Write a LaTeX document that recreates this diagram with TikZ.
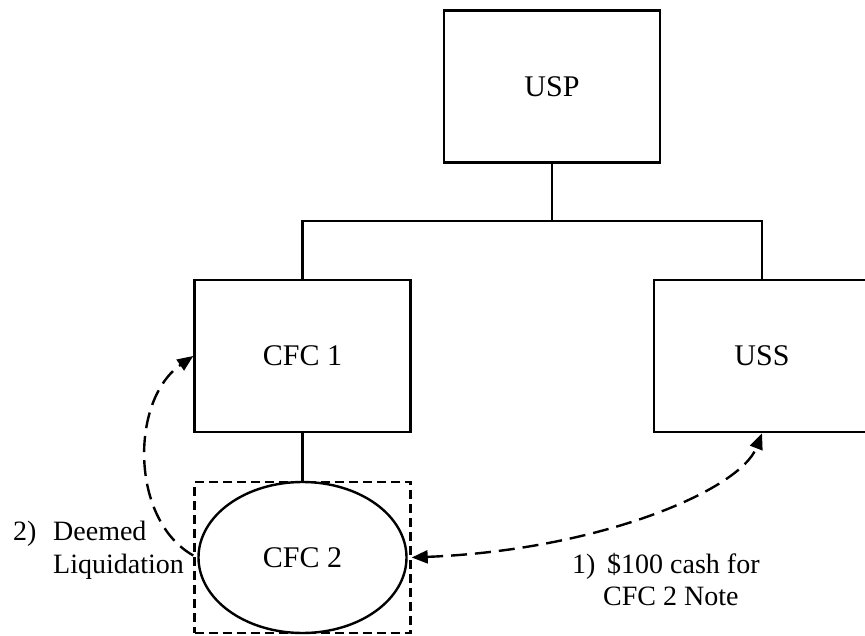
\documentclass[tikz,border=0pt]{standalone}
\usepackage{fontspec}
\setmainfont{Liberation Serif}
\usetikzlibrary{arrows.meta,shapes.geometric}
\begin{document}
\begin{tikzpicture}[x=1pt,y=-1pt,
  entity/.style={draw,line width=2.4pt,minimum width=216pt,minimum height=152pt,inner sep=0pt,font=\fontsize{30}{34}\selectfont},
  oval/.style={draw,ellipse,line width=2.4pt,minimum width=208pt,minimum height=151pt,inner sep=0pt,font=\fontsize{30}{34}\selectfont},
  dashbox/.style={draw,line width=2.4pt,dash pattern=on 9pt off 5pt,minimum width=216pt,minimum height=151pt,inner sep=0pt},
  link/.style={line width=2.4pt},
  tip/.style={},
  flow/.style={line width=2.4pt,dash pattern=on 16pt off 8pt,{Triangle[length=16pt,width=13pt]}-{Triangle[length=16pt,width=13pt]}},
  flowone/.style={line width=2.4pt,dash pattern=on 16pt off 8pt,-{Triangle[length=16pt,width=13pt]}},
  lbl/.style={anchor=base west,inner sep=0pt,font=\fontsize{28}{32}\selectfont}
]
\clip (0,0) rectangle (865,636);
\node[entity] (usp) at (552,86.5) {USP};
\node[entity] (cfc1) at (302.5,356) {CFC 1};
\node[entity] (uss) at (762,356) {USS};
\node[dashbox] (grp) at (302.5,557.5) {};
\node[oval] (cfc2) at (302.5,557.5) {CFC 2};
\coordinate (junc) at (552,221);
\draw[link] (usp.south) -- (junc);
\draw[link] (junc) -| (cfc1.north);
\draw[link] (junc) -| (uss.north);
\draw[link] (cfc1.south) -- (cfc2.north);
\draw[flow] (grp.east) .. controls (600,550) and (740,490) .. (uss.south);
\draw[flowone] ([yshift=2pt]grp.west) .. controls (130,520) and (130,400) .. (cfc1.west);
\node[lbl] (l2a) at (13,540) {2)};
\node[lbl] (l2b) at (53,540) {Deemed};
\node[lbl] (l2c) at (53,573) {Liquidation};
\node[lbl] (l1a) at (572,573) {1)};
\node[lbl] (l1b) at (607,573) {\$100 cash for};
\node[lbl] (l1c) at (603,605) {CFC 2 Note};
\end{tikzpicture}
\end{document}
